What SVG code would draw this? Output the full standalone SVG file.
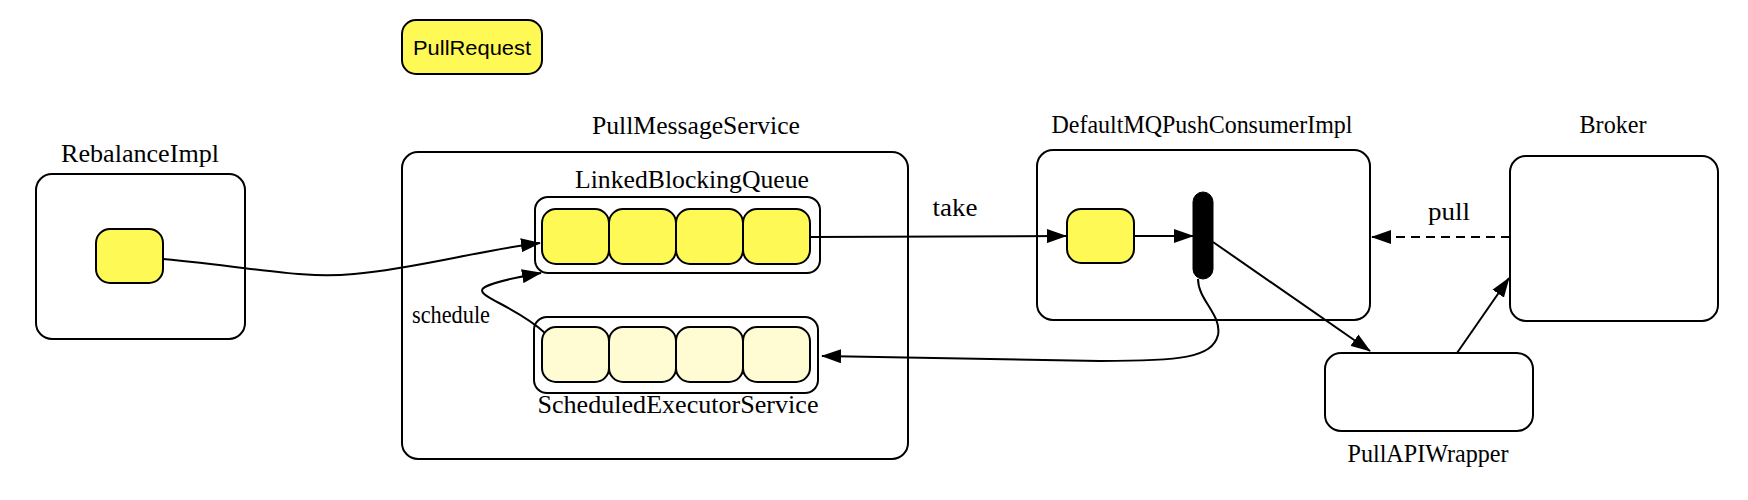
<svg xmlns="http://www.w3.org/2000/svg" width="1748" height="500" viewBox="0 0 1748 500">
<style>
.box{fill:#ffffff;stroke:#000;stroke-width:2}
.cell{fill:#fff955;stroke:#000;stroke-width:2}
.lcell{fill:#fffcd4;stroke:#000;stroke-width:2}
.lbl{font-family:"Liberation Serif","Times New Roman",serif;font-size:25px;fill:#000;text-anchor:middle}
.edge{fill:none;stroke:#000;stroke-width:2}
</style>
<defs>
<marker id="arr" viewBox="0 0 20 14" refX="19" refY="7" markerWidth="20" markerHeight="14" markerUnits="userSpaceOnUse" orient="auto">
<path d="M0,0 L20,7 L0,14 Z" fill="#000"/>
</marker>
</defs>
<rect width="1748" height="500" fill="#ffffff"/>

<g id="pullrequest">
<rect class="cell" x="402" y="20" width="140" height="54" rx="14"/>
<text x="472" y="55" font-family="'Liberation Sans',Arial,sans-serif" font-size="21" text-anchor="middle" textLength="118" lengthAdjust="spacingAndGlyphs">PullRequest</text>
</g>

<g id="rebalanceimpl">
<text class="lbl" x="140" y="162" textLength="158" lengthAdjust="spacingAndGlyphs">RebalanceImpl</text>
<rect class="box" x="36" y="174" width="209" height="165" rx="16"/>
<rect class="cell" x="96" y="229" width="67" height="54" rx="14"/>
</g>

<g id="pullmessageservice">
<text class="lbl" x="696" y="134" textLength="208" lengthAdjust="spacingAndGlyphs">PullMessageService</text>
<rect class="box" x="402" y="152" width="506" height="307" rx="16"/>
</g>

<g id="linkedblockingqueue">
<text class="lbl" x="692" y="188" textLength="234" lengthAdjust="spacingAndGlyphs">LinkedBlockingQueue</text>
<rect class="box" x="535" y="197" width="285" height="76" rx="13"/>
<rect class="cell" x="542" y="209" width="67" height="55" rx="14"/>
<rect class="cell" x="609" y="209" width="67" height="55" rx="14"/>
<rect class="cell" x="676" y="209" width="67" height="55" rx="14"/>
<rect class="cell" x="743" y="209" width="67" height="55" rx="14"/>
</g>

<g id="scheduledexecutorservice">
<rect class="box" x="534" y="317" width="284" height="76" rx="13"/>
<rect class="lcell" x="542" y="327" width="67" height="55" rx="14"/>
<rect class="lcell" x="609" y="327" width="67" height="55" rx="14"/>
<rect class="lcell" x="676" y="327" width="67" height="55" rx="14"/>
<rect class="lcell" x="743" y="327" width="67" height="55" rx="14"/>
<text class="lbl" x="678" y="413" textLength="281" lengthAdjust="spacingAndGlyphs">ScheduledExecutorService</text>
</g>

<g id="defaultmqpushconsumerimpl">
<text class="lbl" x="1202" y="133" textLength="301" lengthAdjust="spacingAndGlyphs">DefaultMQPushConsumerImpl</text>
<rect class="box" x="1037" y="150" width="333" height="170" rx="16"/>
<rect class="cell" x="1067" y="209" width="67" height="54" rx="14"/>
<rect x="1193" y="192" width="20" height="87" rx="10" fill="#000" stroke="#000" stroke-width="1"/>
</g>

<g id="broker">
<text class="lbl" x="1613" y="133" textLength="67" lengthAdjust="spacingAndGlyphs">Broker</text>
<rect class="box" x="1510" y="156" width="208" height="165" rx="16"/>
</g>

<g id="pullapiwrapper">
<rect class="box" x="1325" y="353" width="208" height="78" rx="16"/>
<text class="lbl" x="1428" y="462" textLength="161" lengthAdjust="spacingAndGlyphs">PullAPIWrapper</text>
</g>

<g id="connectors">
<path class="edge" d="M163,259 C260,268 300,279 354,274 C420,268 480,250 540,243" marker-end="url(#arr)"/>
<path class="edge" d="M545,333 C515,305 470,295 485,287 C496,281 518,277 541,273" marker-end="url(#arr)"/>
<path class="edge" d="M811,237 L1066,236" marker-end="url(#arr)"/>
<text class="lbl" x="955" y="216" textLength="45" lengthAdjust="spacingAndGlyphs">take</text>
<path class="edge" d="M1134,236 L1193,236" marker-end="url(#arr)"/>
<path class="edge" d="M1213,242 L1370,351" marker-end="url(#arr)"/>
<path class="edge" d="M1198,279 C1198,300 1222,315 1218,335 C1212,358 1180,361 1100,361 C1000,360 900,357 822,356" marker-end="url(#arr)"/>
<path class="edge" d="M1510,237 L1372,237" stroke-dasharray="9,6" marker-end="url(#arr)"/>
<text class="lbl" x="1449" y="220" textLength="42" lengthAdjust="spacingAndGlyphs">pull</text>
<path class="edge" d="M1457,353 L1509,278" marker-end="url(#arr)"/>
<text class="lbl" x="451" y="323" font-size="20" textLength="78" lengthAdjust="spacingAndGlyphs">schedule</text>
</g>
</svg>
